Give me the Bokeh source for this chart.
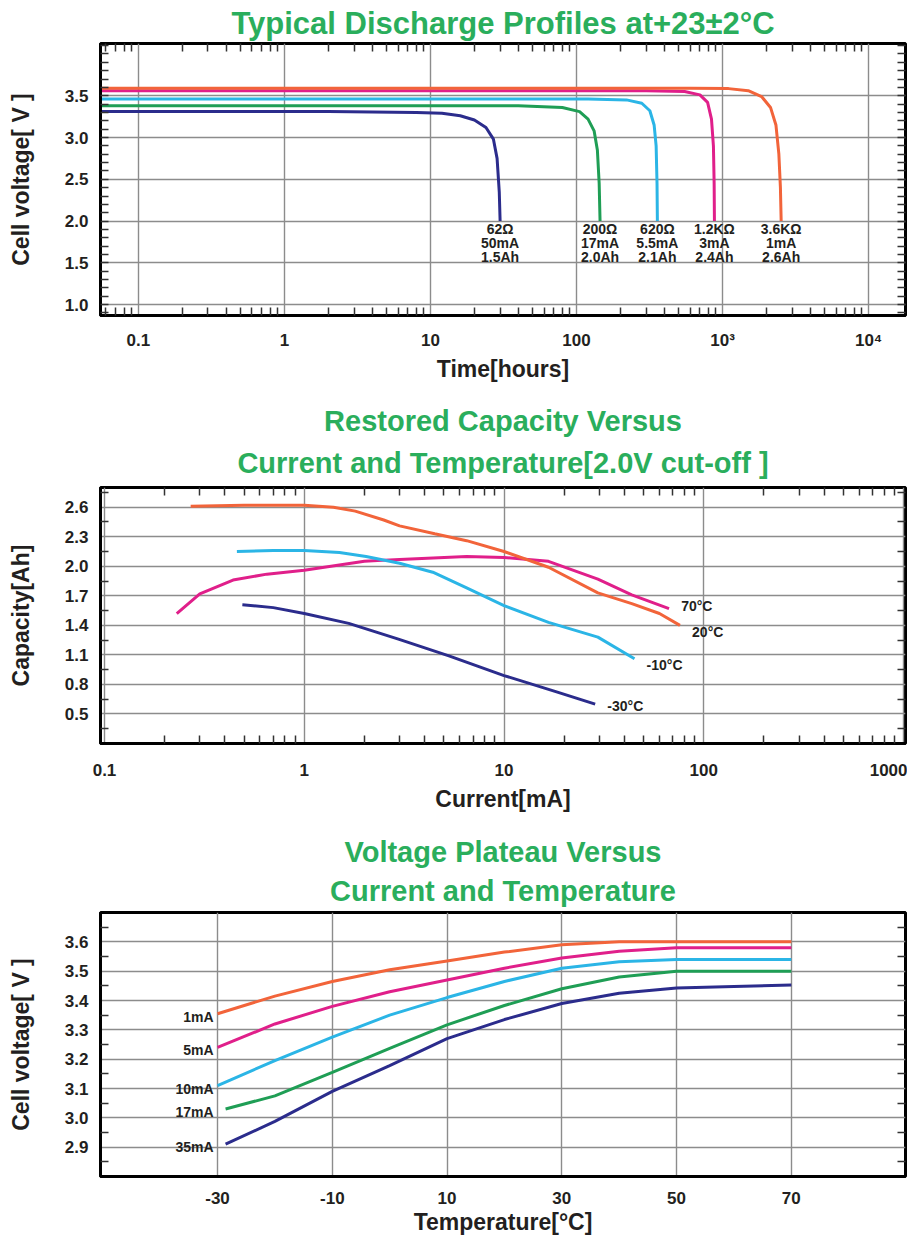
from bokeh.plotting import figure
from bokeh.layouts import column
from bokeh.models import (FixedTicker, LogAxis, LinearAxis, Title, PrintfTickFormatter,
                          CustomJSTickFormatter)
from bokeh.core.properties import value
from bokeh.embed import file_html
from bokeh.resources import INLINE

# ---------------- data ----------------
# Chart 1: Typical discharge profiles (time in hours, cell voltage)
t_62 = [0.055, 2, 8, 12, 16, 20, 24, 27, 28.6, 29.6, 30]
v_62 = [3.31, 3.31, 3.30, 3.29, 3.26, 3.21, 3.12, 2.98, 2.75, 2.35, 2.00]
t_200 = [0.055, 40, 80, 105, 120, 132, 139, 143, 145]
v_200 = [3.38, 3.38, 3.36, 3.31, 3.22, 3.08, 2.85, 2.45, 2.00]
t_620 = [0.055, 120, 220, 280, 318, 340, 351, 356, 358]
v_620 = [3.46, 3.46, 3.45, 3.41, 3.32, 3.15, 2.90, 2.45, 2.00]
t_1k2 = [0.055, 300, 550, 700, 790, 840, 866, 876, 880]
v_1k2 = [3.56, 3.56, 3.55, 3.51, 3.42, 3.22, 2.90, 2.45, 2.00]
t_3k6 = [0.055, 600, 1100, 1500, 1850, 2130, 2320, 2430, 2490, 2520]
v_3k6 = [3.59, 3.59, 3.585, 3.56, 3.49, 3.36, 3.15, 2.80, 2.40, 2.00]
load_res = ["62Ω", "200Ω", "620Ω", "1.2KΩ", "3.6KΩ"]
load_cur = ["50mA", "17mA", "5.5mA", "3mA", "1mA"]
load_cap = ["1.5Ah", "2.0Ah", "2.1Ah", "2.4Ah", "2.6Ah"]
x1_ticks = [0.1, 1, 10, 100, 1000, 10000]
x1_labels = ["0.1", "1", "10", "100", "10³", "10⁴"]
y1_ticks = [1.0, 1.5, 2.0, 2.5, 3.0, 3.5]

# Chart 2: Restored capacity vs current (mA) and temperature
i_70 = [0.23, 0.30, 0.44, 0.65, 1.0, 2.0, 3.0, 6.5, 10, 16.7, 29.5, 43.6, 67]
c_70 = [1.52, 1.72, 1.86, 1.92, 1.96, 2.05, 2.07, 2.10, 2.09, 2.05, 1.87, 1.71, 1.57]
i_20 = [0.27, 0.5, 1.0, 1.4, 1.8, 2.5, 3.0, 4.5, 6.5, 10, 16.7, 29.5, 43.6, 60, 76]
c_20 = [2.61, 2.62, 2.62, 2.60, 2.56, 2.47, 2.41, 2.33, 2.26, 2.15, 1.99, 1.73, 1.62, 1.52, 1.40]
i_m10 = [0.46, 0.7, 1.0, 1.5, 2.04, 3.0, 4.4, 6.5, 10, 16.7, 29.5, 45]
c_m10 = [2.15, 2.16, 2.16, 2.14, 2.10, 2.03, 1.94, 1.78, 1.60, 1.43, 1.28, 1.06]
i_m30 = [0.49, 0.7, 1.0, 1.67, 2.96, 5.3, 10, 18, 28.6]
c_m30 = [1.61, 1.58, 1.52, 1.42, 1.26, 1.09, 0.89, 0.73, 0.60]
temp_labels = ["70°C", "20°C", "-10°C", "-30°C"]
x2_ticks = [0.1, 1, 10, 100, 1000]
x2_labels = ["0.1", "1", "10", "100", "1000"]
y2_ticks = [0.5, 0.8, 1.1, 1.4, 1.7, 2.0, 2.3, 2.6]

# Chart 3: Voltage plateau vs temperature (°C) and current
temp_a = [-30, -20, -10, 0, 10, 20, 30, 40, 50, 60, 70]
temp_b = [-28.6, -20, -10, 0, 10, 20, 30, 40, 50, 60, 70]
v_1mA = [3.355, 3.415, 3.465, 3.505, 3.535, 3.565, 3.59, 3.60, 3.60, 3.60, 3.60]
v_5mA = [3.24, 3.32, 3.38, 3.43, 3.47, 3.51, 3.545, 3.568, 3.58, 3.58, 3.58]
v_10mA = [3.11, 3.195, 3.275, 3.35, 3.41, 3.465, 3.51, 3.532, 3.54, 3.54, 3.54]
v_17mA = [3.03, 3.075, 3.155, 3.237, 3.317, 3.383, 3.44, 3.48, 3.50, 3.50, 3.50]
v_35mA = [2.91, 2.988, 3.09, 3.178, 3.27, 3.335, 3.39, 3.425, 3.443, 3.448, 3.453]
cur_labels = ["1mA", "5mA", "10mA", "17mA", "35mA"]
x3_ticks = [-30, -10, 10, 30, 50, 70]
x3_labels = ["-30", "-10", "10", "30", "50", "70"]
y3_ticks = [2.9, 3.0, 3.1, 3.2, 3.3, 3.4, 3.5, 3.6]

# ---------------- style ----------------
FONT = "Liberation Sans"
TXT = "#231f20"
TITLE_GREEN = "#2aae5c"
NAVY = "#2b2c8c"
GREEN = "#1f9e55"
LBLUE = "#2bb5e6"
MAGENTA = "#e01f8a"
ORANGE = "#f2643a"
GRID = "#8c8c8c"
W = 907


def make_fig(height, xtype, xr, yr, top, bottom):
    p = figure(width=W, height=height, x_axis_type=xtype, x_range=xr, y_range=yr,
               output_backend="svg", toolbar_location=None, title=None,
               min_border_left=100, min_border_right=2,
               min_border_top=top, min_border_bottom=bottom)
    p.outline_line_color = "black"
    p.outline_line_width = 3
    p.outline_line_alpha = 1
    p.background_fill_color = "white"
    p.border_fill_color = "white"
    p.xgrid.grid_line_color = GRID
    p.ygrid.grid_line_color = GRID
    p.xgrid.grid_line_width = 1.4
    p.ygrid.grid_line_width = 1.4
    return p


def style_axis(ax, label, standoff, label_standoff):
    ax.axis_label = label
    ax.axis_line_color = "black"
    ax.axis_line_width = 3
    ax.major_tick_in = 0
    ax.major_tick_out = 0
    ax.minor_tick_in = 8
    ax.minor_tick_out = 0
    ax.minor_tick_line_color = "#333333"
    ax.minor_tick_line_width = 1.5
    ax.major_label_text_font = FONT
    ax.major_label_text_font_style = "bold"
    ax.major_label_text_font_size = "17px"
    ax.major_label_text_color = TXT
    ax.major_label_standoff = standoff
    ax.axis_label_text_font = FONT
    ax.axis_label_text_font_style = "bold"
    ax.axis_label_text_font_size = "23px"
    ax.axis_label_text_color = TXT
    ax.axis_label_standoff = label_standoff


BLANK = CustomJSTickFormatter(code="return '';")


def ghost_axis(p, cls, ticker, side):
    ax = cls(ticker=ticker, formatter=BLANK)
    ax.axis_line_color = None
    ax.major_tick_in = 0
    ax.major_tick_out = 0
    ax.minor_tick_in = 8
    ax.minor_tick_out = 0
    ax.minor_tick_line_color = "#333333"
    ax.minor_tick_line_width = 1.5
    ax.major_label_text_font_size = "8px"
    ax.major_label_standoff = 0
    p.add_layout(ax, side)


def add_titles(p, lines, size, standoffs):
    # first added sits closest to the plot
    for txt, so in zip(reversed(lines), standoffs):
        p.add_layout(Title(text=txt, align="center", text_font=FONT,
                           text_font_style="bold", text_font_size=size,
                           text_color=TITLE_GREEN, standoff=so), "above")


def log_minors(lo, hi):
    return [m * 10.0 ** e for e in range(lo, hi) for m in range(2, 10)]


# ---------------- chart 1 ----------------
p1 = make_fig(384, "log", (0.0551, 17890), (0.87, 4.125), 42, 66)
tk1x = FixedTicker(ticks=x1_ticks, minor_ticks=log_minors(-2, 5))
tk1y = FixedTicker(ticks=y1_ticks, minor_ticks=[round(1.0 + 0.1 * k, 2) for k in range(-2, 33)])
p1.xaxis.ticker = tk1x
p1.yaxis.ticker = tk1y
p1.xgrid.ticker = tk1x
p1.ygrid.ticker = tk1y
p1.yaxis.formatter = PrintfTickFormatter(format="%.1f")
p1.xaxis.major_label_overrides = dict(zip(x1_ticks, x1_labels))
style_axis(p1.xaxis[0], "Time[hours]", 15, 3)
style_axis(p1.yaxis[0], "Cell voltage[ V ]", 12, 28)
ghost_axis(p1, LogAxis, tk1x, "above")
ghost_axis(p1, LinearAxis, tk1y, "right")
add_titles(p1, ["Typical Discharge Profiles at+23±2°C"], "31px", [6])

curves1 = [(t_62, v_62, NAVY), (t_200, v_200, GREEN), (t_620, v_620, LBLUE),
           (t_1k2, v_1k2, MAGENTA), (t_3k6, v_3k6, ORANGE)]
for t, v, c in curves1:
    p1.line(t, v, line_color=c, line_width=3)
ends = [t[-1] for t, v, c in curves1]
for rows, yv in ((load_res, 1.905), (load_cur, 1.74), (load_cap, 1.575)):
    p1.text(x=ends, y=[yv] * len(ends), text=rows, text_font=value(FONT),
            text_font_style="bold", text_font_size="14px", text_color=TXT,
            text_align="center", text_baseline="middle")

# ---------------- chart 2 ----------------
p2 = make_fig(431, "log", (0.0955, 1023), (0.2, 2.8), 103, 72)
tk2x = FixedTicker(ticks=x2_ticks, minor_ticks=log_minors(-1, 3))
tk2y = FixedTicker(ticks=y2_ticks, minor_ticks=[round(0.35 + 0.3 * k, 2) for k in range(9)])
p2.xaxis.ticker = tk2x
p2.yaxis.ticker = tk2y
p2.xgrid.ticker = tk2x
p2.ygrid.ticker = tk2y
p2.yaxis.formatter = PrintfTickFormatter(format="%.1f")
p2.xaxis.major_label_overrides = dict(zip(x2_ticks, x2_labels))
style_axis(p2.xaxis[0], "Current[mA]", 20, 7)
style_axis(p2.yaxis[0], "Capacity[Ah]", 12, 28)
ghost_axis(p2, LogAxis, tk2x, "above")
ghost_axis(p2, LinearAxis, tk2y, "right")
add_titles(p2, ["Restored Capacity Versus", "Current and Temperature[2.0V cut-off ]"], "29px", [17, 0])

curves2 = [(i_70, c_70, MAGENTA), (i_20, c_20, ORANGE), (i_m10, c_m10, LBLUE), (i_m30, c_m30, NAVY)]
for x, y, c in curves2:
    p2.line(x, y, line_color=c, line_width=3)
lab_dy = [0.03, -0.07, -0.06, -0.02]
p2.text(x=[x[-1] * 1.15 for x, y, c in curves2],
        y=[y[-1] + d for (x, y, c), d in zip(curves2, lab_dy)],
        text=temp_labels, text_font=value(FONT), text_font_style="bold",
        text_font_size="14px", text_color=TXT, text_align="left", text_baseline="middle")

# ---------------- chart 3 ----------------
p3 = make_fig(424, "linear", (-50.4, 89.9), (2.8, 3.7), 97, 63)
tk3x = FixedTicker(ticks=x3_ticks, minor_ticks=[])
tk3y = FixedTicker(ticks=y3_ticks, minor_ticks=[round(2.85 + 0.1 * k, 2) for k in range(9)])
p3.xaxis.ticker = tk3x
p3.yaxis.ticker = tk3y
p3.xgrid.ticker = tk3x
p3.ygrid.ticker = tk3y
p3.yaxis.formatter = PrintfTickFormatter(format="%.1f")
p3.xaxis.major_label_overrides = dict(zip(x3_ticks, x3_labels))
style_axis(p3.xaxis[0], "Temperature[°C]", 15, 2)
style_axis(p3.yaxis[0], "Cell voltage[ V ]", 12, 28)
ghost_axis(p3, LinearAxis, tk3y, "right")
add_titles(p3, ["Voltage Plateau Versus", "Current and Temperature"], "29px", [11, 0])

curves3 = [(temp_a, v_1mA, ORANGE), (temp_a, v_5mA, MAGENTA), (temp_a, v_10mA, LBLUE),
           (temp_b, v_17mA, GREEN), (temp_b, v_35mA, NAVY)]
for x, y, c in curves3:
    p3.line(x, y, line_color=c, line_width=3)
p3.text(x=[-30.7] * len(curves3), y=[y[0] - 0.01 for x, y, c in curves3],
        text=cur_labels, text_font=value(FONT), text_font_style="bold",
        text_font_size="14px", text_color=TXT, text_align="right", text_baseline="middle")

layout = column(p1, p2, p3, spacing=0)
open("out.html", "w").write(file_html(layout, INLINE))
